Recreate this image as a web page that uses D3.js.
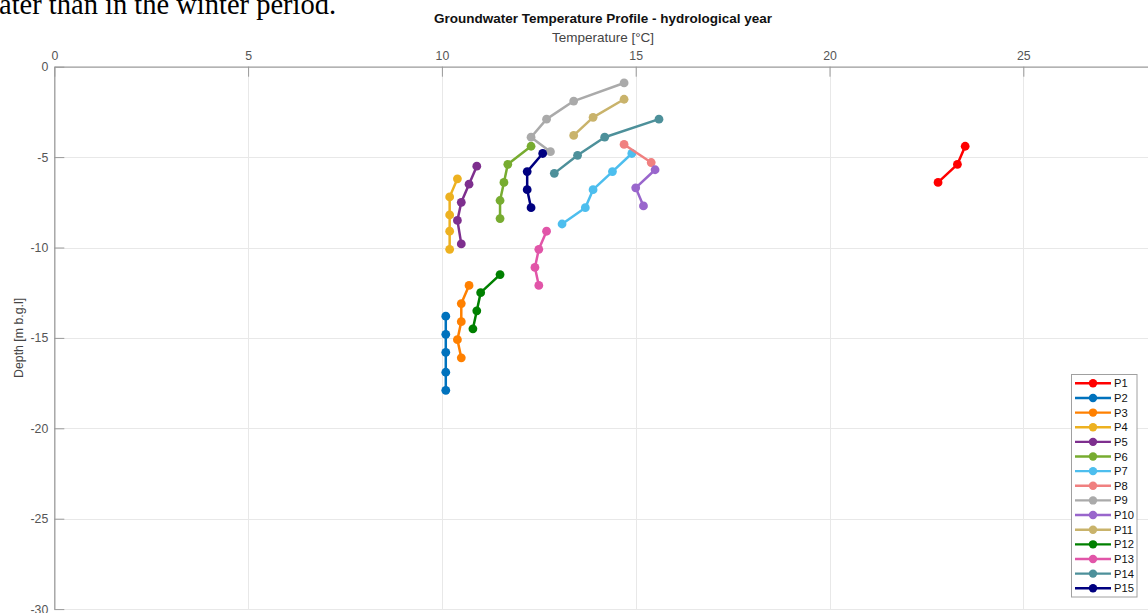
<!DOCTYPE html>
<html>
<head>
<meta charset="utf-8">
<script src="https://cdn.jsdelivr.net/npm/d3@7"></script>
<style>
  html, body { margin: 0; padding: 0; background: #fff; overflow: hidden; }
  svg { display: block; font-family: "Liberation Sans", Arial, sans-serif; }
</style>
</head>
<body>
<svg id="chart" width="1148" height="613"></svg>
<script>
// Probe names shown in the legend
const probeNames = ["P1","P2","P3","P4","P5","P6","P7","P8","P9","P10","P11","P12","P13","P14","P15"];

// Temperature readings [°C] per probe, top to bottom
const temperatures = [
  [23.5, 23.3, 22.8],
  [10.1, 10.1, 10.1, 10.1, 10.1],
  [10.7, 10.5, 10.5, 10.4, 10.5],
  [10.4, 10.2, 10.2, 10.2, 10.2],
  [10.9, 10.7, 10.5, 10.4, 10.5],
  [12.3, 11.7, 11.6, 11.5, 11.5],
  [14.9, 14.4, 13.9, 13.7, 13.1],
  [14.7, 15.4],
  [14.7, 13.4, 12.7, 12.3, 12.8],
  [15.5, 15.0, 15.2],
  [14.7, 13.9, 13.4],
  [11.5, 11.0, 10.9, 10.8],
  [12.7, 12.5, 12.4, 12.5],
  [15.6, 14.2, 13.5, 12.9],
  [12.6, 12.2, 12.2, 12.3]
];

// Measurement depths [m b.g.l] per probe
const depths = [
  [-4.4, -5.4, -6.4],
  [-13.8, -14.8, -15.8, -16.9, -17.9],
  [-12.1, -13.1, -14.1, -15.1, -16.1],
  [-6.2, -7.2, -8.2, -9.1, -10.1],
  [-5.5, -6.5, -7.5, -8.5, -9.8],
  [-4.4, -5.4, -6.4, -7.4, -8.4],
  [-4.8, -5.8, -6.8, -7.8, -8.7],
  [-4.3, -5.3],
  [-0.9, -1.9, -2.9, -3.9, -4.7],
  [-5.7, -6.7, -7.7],
  [-1.8, -2.8, -3.8],
  [-11.5, -12.5, -13.5, -14.5],
  [-9.1, -10.1, -11.1, -12.1],
  [-2.9, -3.9, -4.9, -5.9],
  [-4.8, -5.8, -6.8, -7.8]
];

// Tick values for both axes
const temperatureTicks = [0, 5, 10, 15, 20, 25];
const depthTicks = [0, -5, -10, -15, -20, -25, -30];

// Line colour per probe
const probeColors = ["#ff0000","#0072bd","#ff8000","#edb120","#7e2f8e","#77ac30","#4dbeee",
                     "#f08080","#aaaaaa","#9966cc","#c9b36b","#008000","#e155a8","#4d909a","#000080"];

const svg = d3.select("#chart");

// Fragment of the surrounding document text above the figure
svg.append("text")
  .attr("x", -1).attr("y", 14)
  .attr("font-family", "'Liberation Serif', 'Times New Roman', serif")
  .attr("font-size", 28.5)
  .attr("fill", "#000")
  .text("ater than in the winter period.");

const plot = { left: 54.3, top: 66.7, right: 1152, bottom: 609.1 };

const x = d3.scaleLinear().domain([0, 28.32]).range([plot.left, plot.right]);
const y = d3.scaleLinear().domain([0, -30]).range([plot.top, plot.bottom]);

// Grid
const grid = svg.append("g").attr("stroke", "#e8e8e8").attr("stroke-width", 1);
grid.selectAll(".gx").data(temperatureTicks.slice(1)).join("line")
  .attr("x1", d => Math.round(x(d)) + 0.5).attr("x2", d => Math.round(x(d)) + 0.5)
  .attr("y1", plot.top).attr("y2", plot.bottom);
grid.selectAll(".gy").data(depthTicks.slice(1)).join("line")
  .attr("y1", d => Math.round(y(d)) + 0.5).attr("y2", d => Math.round(y(d)) + 0.5)
  .attr("x1", plot.left).attr("x2", plot.right);

// Axes
const xAxis = d3.axisTop(x).tickValues(temperatureTicks).tickFormat(d3.format("d"))
  .tickSizeInner(-10).tickSizeOuter(0).tickPadding(7);
const yAxis = d3.axisLeft(y).tickValues(depthTicks).tickFormat(d => d === 0 ? "0" : "-" + Math.abs(d))
  .tickSizeInner(-10).tickSizeOuter(0).tickPadding(6);

const gx = svg.append("g").attr("transform", `translate(0,${plot.top})`).call(xAxis);
const gy = svg.append("g").attr("transform", `translate(${plot.left},0)`).call(yAxis);
[gx, gy].forEach(g => {
  g.select(".domain").attr("stroke", "#9a9a9a").attr("stroke-width", 1.3);
  g.selectAll(".tick line").attr("stroke", "#9a9a9a").attr("stroke-width", 1);
  g.selectAll(".tick text").attr("fill", "#555").attr("font-size", 12.3)
    .attr("font-family", "'Liberation Sans', Arial, sans-serif");
});

// Titles
svg.append("text")
  .attr("x", 603).attr("y", 23).attr("text-anchor", "middle")
  .attr("font-size", 13.5).attr("font-weight", "bold").attr("fill", "#111")
  .text("Groundwater Temperature Profile - hydrological year");
svg.append("text")
  .attr("x", 603).attr("y", 42).attr("text-anchor", "middle")
  .attr("font-size", 13.5).attr("fill", "#444")
  .text("Temperature [°C]");
svg.append("text")
  .attr("transform", `translate(23,${(plot.top + plot.bottom) / 2}) rotate(-90)`)
  .attr("text-anchor", "middle")
  .attr("font-size", 12.3).attr("fill", "#444")
  .text("Depth [m b.g.l]");

// Profiles
const line = d3.line().x(d => x(d[0])).y(d => y(d[1]));
const series = probeNames.map((name, i) => ({
  name, color: probeColors[i],
  points: temperatures[i].map((t, j) => [t, depths[i][j]])
}));

const gSeries = svg.append("g").selectAll("g").data(series).join("g");
gSeries.append("path")
  .attr("d", d => line(d.points))
  .attr("fill", "none").attr("stroke", d => d.color).attr("stroke-width", 2.5)
  .attr("stroke-linejoin", "round");
gSeries.selectAll("circle").data(d => d.points.map(p => ({ p, color: d.color }))).join("circle")
  .attr("cx", d => x(d.p[0])).attr("cy", d => y(d.p[1])).attr("r", 4.4)
  .attr("fill", d => d.color);

// Legend
const legend = svg.append("g");
legend.append("rect")
  .attr("x", 1071.5).attr("y", 374.5).attr("width", 65.5).attr("height", 222.5)
  .attr("fill", "#fff").attr("stroke", "#a0a0a0").attr("stroke-width", 1);
const rowH = 14.64;
const items = legend.selectAll(".item").data(series).join("g")
  .attr("transform", (d, i) => `translate(0,${383.3 + i * rowH})`);
items.append("line").attr("x1", 1075).attr("x2", 1111)
  .attr("stroke", d => d.color).attr("stroke-width", 2.4);
items.append("circle").attr("cx", 1093).attr("r", 4.2).attr("fill", d => d.color);
items.append("text").attr("x", 1114).attr("dy", "0.36em")
  .attr("font-size", 11.2).attr("fill", "#111").text(d => d.name);
</script>
</body>
</html>
